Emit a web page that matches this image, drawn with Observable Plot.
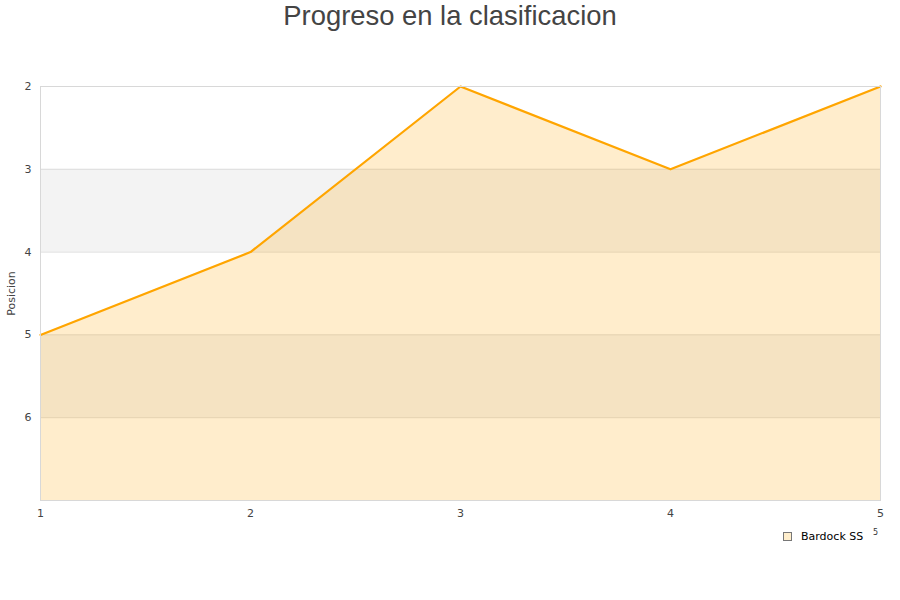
<!DOCTYPE html>
<html>
<head>
<meta charset="utf-8">
<script src="https://cdn.jsdelivr.net/npm/d3@7"></script>
<script src="https://cdn.jsdelivr.net/npm/@observablehq/plot@0.6"></script>
<style>
  html, body { margin: 0; padding: 0; background: #fff; }
  #wrap { position: relative; width: 900px; height: 600px; overflow: hidden; }
  #title { position: absolute; left: 0; top: 0; width: 900px; text-align: center;
    font-family: "Liberation Sans", Arial, sans-serif; font-size: 27.4px; color: #444; line-height: 32px; }
  #legend { position: absolute; left: 783px; top: 530px; font-family: "DejaVu Sans", sans-serif;
    font-size: 11px; color: #000; display: flex; align-items: center; }
  #legend .sw { width: 7px; height: 7px; background: #ffeecc; border: 1px solid #777; margin-right: 9px; }
  #extra { position: absolute; left: 873px; top: 528px; font-family: "DejaVu Sans", sans-serif; font-size: 8px; color: #333; }
  #chart { position: absolute; left: 0; top: 0; }
</style>
</head>
<body>
<div id="wrap">
  <div id="chart"></div>
  <div id="title">Progreso en la clasificacion</div>
  <div id="legend"><div class="sw"></div><span>Bardock SS</span></div>
  <div id="extra">5</div>
</div>
<script>
const jornadas = [1, 2, 3, 4, 5];
const posiciones = [5, 4, 2, 3, 2];
const yTicks = [2, 3, 4, 5, 6];
const gridLines = [2, 3, 4, 5, 6, 7];
const bandStarts = [3, 5];
const bandEnds = [4, 6];
const seriesName = "Bardock SS";
const yLabel = "Posicion";
const yMin = 2, yMax = 7;

const data = jornadas.map((j, i) => ({ jornada: j, pos: posiciones[i], serie: seriesName }));
const bands = bandStarts.map((s, i) => ({ y1: s, y2: bandEnds[i] }));

const chart = Plot.plot({
  width: 900,
  height: 600,
  marginTop: 86,
  marginBottom: 100,
  marginLeft: 40,
  marginRight: 20,
  style: { fontFamily: "'DejaVu Sans', sans-serif", fontSize: "11px", color: "#444", background: "transparent" },
  x: { domain: [1, 5] },
  y: { domain: [yMin, yMax], reverse: true },
  marks: [
    Plot.rectY(bands, { x1: 1, x2: 5, y1: "y1", y2: "y2", fill: "#f3f3f3" }),
    Plot.ruleY(gridLines, { stroke: "#dddddd", strokeWidth: 1 }),
    Plot.areaY(data, { x: "jornada", y1: yMax, y2: "pos", fill: "orange", fillOpacity: 0.2 }),
    Plot.line(data, { x: "jornada", y: "pos", stroke: "orange", strokeWidth: 2.2 }),
    Plot.frame({ stroke: "#d8d8d8" }),
    Plot.axisY(yTicks, { tickSize: 0, tickPadding: 9, tickFormat: d => String(d), label: yLabel, labelAnchor: "center", labelArrow: "none", labelOffset: 33, fill: "#444" }),
    Plot.axisX(jornadas, { tickSize: 0, tickPadding: 9, label: null, fill: "#444", tickFormat: d => String(d) })
  ]
});
document.getElementById("chart").appendChild(chart);
</script>
</body>
</html>
